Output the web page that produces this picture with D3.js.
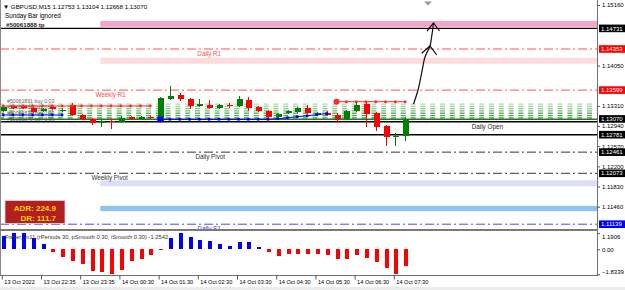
<!DOCTYPE html>
<html>
<head>
<meta charset="utf-8">
<script src="https://cdn.jsdelivr.net/npm/d3@7"></script>
<style>
  body { margin: 0; background: #fff; }
  svg text { font-family: "Liberation Sans", Arial, sans-serif; }
</style>
</head>
<body>
<script>
// ---- chart data (GBPUSD M15) ----
var opens  = [1.13223,1.13315,1.13306,1.13278,1.13223,1.13296,1.13223,1.13333,1.13150,1.13077,
              1.13004,1.13041,1.13022,1.13114,1.13077,1.13110,1.13041,1.13443,1.13516,1.13443,
              1.13315,1.13333,1.13278,1.13333,1.13315,1.13424,1.13296,1.13223,1.13114,1.13187,
              1.13205,1.13278,1.13150,1.13187,1.13150,1.13077,1.13223,1.13351,1.13187,1.12949,
              1.12730,1.12753]
var highs  = [1.13333,1.13333,1.13330,1.13296,1.13278,1.13315,1.13278,1.13369,1.13168,1.13095,
              1.13059,1.13077,1.13132,1.13132,1.13132,1.13125,1.13479,1.13680,1.13552,1.13461,
              1.13443,1.13424,1.13351,1.13369,1.13497,1.13479,1.13315,1.13242,1.13187,1.13242,
              1.13296,1.13333,1.13205,1.13223,1.13187,1.13242,1.13388,1.13369,1.13205,1.12967,
              1.12803,1.13104]
var lows   = [1.13205,1.13260,1.13255,1.13187,1.13205,1.13242,1.13205,1.13132,1.13059,1.12967,
              1.12913,1.12894,1.13004,1.13059,1.13059,1.13070,1.13022,1.13424,1.13406,1.13260,
              1.13296,1.13260,1.13260,1.13278,1.13296,1.13223,1.13205,1.13095,1.13095,1.13168,
              1.13187,1.13168,1.13132,1.13132,1.13004,1.13059,1.13205,1.12931,1.12840,1.12566,
              1.12566,1.12668]
var closes = [1.13296,1.13278,1.13270,1.13205,1.13260,1.13260,1.13242,1.13150,1.13077,1.13004,
              1.13041,1.13022,1.13095,1.13077,1.13114,1.13090,1.13461,1.13497,1.13443,1.13315,
              1.13351,1.13278,1.13333,1.13315,1.13443,1.13278,1.13223,1.13114,1.13168,1.13223,
              1.13278,1.13187,1.13187,1.13150,1.13077,1.13223,1.13333,1.13168,1.12931,1.12730,
              1.12766,1.13070]

// Fisher_m11 histogram
var fisher = [0.95,1.1906,1.17,0.86,0.37,-0.22,-0.54,-0.86,-1.10,-1.59,
              -1.64,-1.80,-1.52,-0.86,-0.71,-0.40,-0.07,0.86,1.18,0.88,
              0.69,0.61,0.39,0.27,0.51,0.51,0.15,-0.17,-0.47,-0.34,
              -0.34,-0.35,-0.37,-0.44,-0.74,-0.74,-0.44,-0.61,-0.96,-1.35,
              -1.8339,-1.2542]
var fisherTicks = [1.1906, 0, -1.8339]

var timeTickBars = [0,4,8,12,16,20,24,28,32,36,40]
var timeLabels = ["13 Oct 2022","13 Oct 22:35","13 Oct 23:35","14 Oct 00:30","14 Oct 01:30",
                  "14 Oct 02:30","14 Oct 03:30","14 Oct 04:30","14 Oct 05:30","14 Oct 06:30","14 Oct 07:30"]

var priceTicks = [1.15160,1.14050,1.13310,1.12940,1.12570,1.12200,1.11830,1.11460]

// level lines
var levelPrices = [1.14731,1.14353,1.13599,1.13020,1.12781,1.12461,1.12073,1.11139]
var levelNames  = ["","Daily R1","Weekly R1","Daily Open","","Daily Pivot","Weekly Pivot","Daily S1"]
var levelLabelBar = [0,19.8,9.4,47.8,0,19.6,9.0,19.8]

// price-axis marker boxes
var boxPrices = [1.14731,1.14353,1.13599,1.13070,1.12781,1.12461,1.12073,1.11139]
var boxKinds  = ["black","red","red","black","black","black","black","blue"]

// zones (from 14 Oct 00:00 bar)
var zoneLow  = [1.14758,1.14082,1.11835,1.11378]
var zoneHigh = [1.14868,1.14192,1.11944,1.11475]
var zoneStartBar = 9.9

// grid of pending order levels
var gridLevels = [1.13342,1.13300,1.13258,1.13216,1.13174,1.13132,1.13090]
var gridBase = 1.13065

// order lines with markers
var redA = {bars: d3.range(0,16), price: 1.13307}
var redB = {bars: d3.range(34,42), price: 1.13386}
var blueC = {bars: d3.range(0,7), price: 1.13142}
var blueDBars = d3.range(16,34)
var blueDPrices = [1.13063,1.13063,1.13063,1.13063,1.13063,1.13063,1.13063,1.13063,1.13063,1.13063,
                   1.13063,1.13063,1.13073,1.13093,1.13111,1.13129,1.13148,1.13168]

var orderTexts = ["#50061891 buy 0.03","#50061884 buy 0.03","#50061877 buy 0.03","#50061870 buy 0.03"]
var orderTextPrices = [1.13400,1.13290,1.13180,1.13070]

// hand-drawn arrow (bar index, price)
var arrowIdx   = [41.86,42.32,42.69,43.03,43.54,43.69,43.90]
var arrowPrice = [1.13344,1.13601,1.13913,1.14206,1.14408,1.14555,1.14830]
var midHeadIdx = [42.69,43.54,44.22], midHeadPrice = [1.14274,1.14408,1.14243]
var topHeadIdx = [43.23,43.90,44.51], topHeadPrice = [1.14683,1.14830,1.14683]

var adrText = ["ADR: 224.9", "DR: 111.7"]

// ---- layout ----
var W = 625, H = 290
var plotR = 597, mainB = 229, indT = 231, indB = 275.5

var svg = d3.select("body").append("svg").attr("width", W).attr("height", H)
svg.append("rect").attr("width", W).attr("height", H).attr("fill", "#fff")
svg.append("rect").attr("x", 0).attr("y", 287).attr("width", W).attr("height", 3).attr("fill", "#ececec")

var xBar = d3.scaleLinear().domain([0, 41]).range([3.3, 405.1])
var yP = d3.scaleLinear().domain([1.1146, 1.1516]).range([206.7, 5])
var yInd = d3.scaleLinear().domain([-1.8339, 1.1906]).range([274.3, 233.1])

svg.append("clipPath").attr("id", "mainclip").append("rect")
  .attr("x", 0).attr("y", 0).attr("width", plotR).attr("height", mainB)
var main = svg.append("g").attr("clip-path", "url(#mainclip)")

// zones
var zoneColors = ["#f6a5c9","#fddcdc","#dedefa","#8ec4f2"]
main.append("g").selectAll("rect").data(zoneLow).join("rect")
  .attr("x", xBar(zoneStartBar)).attr("width", plotR - xBar(zoneStartBar))
  .attr("y", function(d, i) { return yP(zoneHigh[i]) })
  .attr("height", function(d, i) { return yP(zoneLow[i]) - yP(zoneHigh[i]) })
  .attr("fill", function(d, i) { return zoneColors[i] })

// green pending-order grid
var gcol = d3.interpolateRgb("#a9dca9", "#3f9d3f")
main.append("g").selectAll("line").data(gridLevels).join("line")
  .attr("x1", 0).attr("x2", plotR)
  .attr("y1", function(d) { return yP(d) }).attr("y2", function(d) { return yP(d) })
  .attr("stroke", function(d, i) { return gcol(i / (gridLevels.length - 1)) })
  .attr("stroke-width", 1.3).attr("stroke-dasharray", "5,4.8").attr("stroke-dashoffset", 1)
main.append("line").attr("x1", 0).attr("x2", plotR)
  .attr("y1", yP(gridBase)).attr("y2", yP(gridBase))
  .attr("stroke", "#1f7a1f").attr("stroke-width", 1.6)

// level lines
var levelColor = ["#000","#ff5252","#ff5252","#000","#000","#333","#333","#4646ff"]
var levelDash  = [null,"9,3,2,3","9,3,2,3",null,null,"9,3,2,3","9,3,2,3","9,3,2,3"]
var levelWidth = [1.2,1,1,1.5,1.5,1,1,1]
main.append("g").selectAll("line").data(levelPrices).join("line")
  .attr("x1", 0).attr("x2", plotR)
  .attr("y1", function(d) { return yP(d) }).attr("y2", function(d) { return yP(d) })
  .attr("stroke", function(d, i) { return levelColor[i] })
  .attr("stroke-width", function(d, i) { return levelWidth[i] })
  .attr("stroke-dasharray", function(d, i) { return levelDash[i] })

var labelColor = ["#000","#ff4a4a","#ff4a4a","#222","#000","#333","#333","#3b3bff"]
main.append("g").selectAll("text").data(levelPrices).join("text")
  .filter(function(d, i) { return levelNames[i] !== "" })
  .attr("x", function(d) { var i = levelPrices.indexOf(d); return xBar(levelLabelBar[i]) })
  .attr("y", function(d) { return yP(d) + 7 })
  .attr("font-size", "6.3px")
  .attr("fill", function(d) { return labelColor[levelPrices.indexOf(d)] })
  .text(function(d) { return levelNames[levelPrices.indexOf(d)] })

// order labels (stacked, drawn under candles)
main.append("g").selectAll("text").data(orderTexts).join("text")
  .attr("x", 7).attr("y", function(d, i) { return yP(orderTextPrices[i]) + 2 })
  .attr("font-size", "5.2px").attr("fill", "#4a4a4a").attr("opacity", 0.85)
  .text(function(d) { return d })

// candles
var up = "#008000", dn = "#ff0000"
var bars = d3.range(opens.length)
var cg = main.append("g").attr("shape-rendering", "crispEdges")
cg.selectAll("line").data(bars).join("line")
  .attr("x1", function(i) { return Math.round(xBar(i)) + 0.5 })
  .attr("x2", function(i) { return Math.round(xBar(i)) + 0.5 })
  .attr("y1", function(i) { return yP(highs[i]) })
  .attr("y2", function(i) { return yP(lows[i]) })
  .attr("stroke", function(i) { return closes[i] >= opens[i] ? up : dn })
cg.selectAll("rect").data(bars).join("rect")
  .attr("x", function(i) { return Math.round(xBar(i)) - 2.5 })
  .attr("width", 6)
  .attr("y", function(i) { return yP(Math.max(opens[i], closes[i])) })
  .attr("height", function(i) { return Math.max(1.2, Math.abs(yP(opens[i]) - yP(closes[i]))) })
  .attr("fill", function(i) { return closes[i] >= opens[i] ? up : dn })

// order lines with markers
function flatLine(o, color, r) {
  main.append("line")
    .attr("x1", xBar(o.bars[0])).attr("x2", xBar(o.bars[o.bars.length - 1]))
    .attr("y1", yP(o.price)).attr("y2", yP(o.price))
    .attr("stroke", color).attr("stroke-width", 1)
  main.append("g").selectAll("circle").data(o.bars).join("circle")
    .attr("cx", function(b) { return xBar(b) }).attr("cy", yP(o.price))
    .attr("r", r).attr("fill", color)
}
flatLine(redA, "#ff2a2a", 1.4)
flatLine(redB, "#ff2a2a", 1.5)
main.append("circle").attr("cx", xBar(redB.bars[0])).attr("cy", yP(redB.price)).attr("r", 3).attr("fill", "#ff2a2a")
flatLine(blueC, "#0000ff", 1.4)

var blueLine = d3.line().x(function(b) { return xBar(b) }).y(function(b, i) { return yP(blueDPrices[i]) })
main.append("path").attr("d", blueLine(blueDBars)).attr("fill", "none").attr("stroke", "#0000ff").attr("stroke-width", 1)
main.append("g").selectAll("rect").data(blueDBars).join("rect")
  .attr("x", function(b) { return xBar(b) - 1.3 }).attr("y", function(b, i) { return yP(blueDPrices[i]) - 1.3 })
  .attr("width", 2.6).attr("height", 2.6).attr("fill", "#0000ff")
main.append("rect").attr("x", xBar(blueDBars[0]) - 2.8).attr("y", yP(blueDPrices[0]) - 2.8)
  .attr("width", 5.6).attr("height", 5.6).attr("fill", "#0000ff")

// hand drawn arrow
var arrowLine = d3.line().curve(d3.curveCatmullRom)
  .x(function(d) { return xBar(d[0]) }).y(function(d) { return yP(d[1]) })
var headLine = d3.line().x(function(d) { return xBar(d[0]) }).y(function(d) { return yP(d[1]) })
main.append("path").attr("d", arrowLine(d3.zip(arrowIdx, arrowPrice)))
  .attr("fill", "none").attr("stroke", "#111").attr("stroke-width", 1.2)
main.append("path").attr("d", headLine(d3.zip(midHeadIdx, midHeadPrice)))
  .attr("fill", "none").attr("stroke", "#111").attr("stroke-width", 1.2)
main.append("path").attr("d", headLine(d3.zip(topHeadIdx, topHeadPrice)))
  .attr("fill", "none").attr("stroke", "#111").attr("stroke-width", 1.2)

// ADR box
svg.append("rect").attr("x", 5).attr("y", 200.5).attr("width", 60).attr("height", 23)
  .attr("fill", "#b31e1e").attr("stroke", "#d9d9d9").attr("stroke-width", 0.8)
svg.append("g").selectAll("text").data(adrText).join("text")
  .attr("x", 56).attr("y", function(d, i) { return 210.5 + i * 10.5 })
  .attr("text-anchor", "end").attr("font-family", "DejaVu Sans").attr("font-weight", "bold")
  .attr("font-size", "8px").attr("fill", "#ffd400")
  .text(function(d) { return d })

// header
svg.append("text").attr("x", 3).attr("y", 8.5).attr("font-size", "6.2px").attr("fill", "#000")
  .text("\u25BC GBPUSD,M15  1.12753 1.13104 1.12668 1.13070")
svg.append("text").attr("x", 5).attr("y", 18).attr("font-size", "6.3px").attr("fill", "#000")
  .text("Sunday Bar ignored")
svg.append("text").attr("x", 6).attr("y", 26.5).attr("font-size", "6.2px").attr("font-weight", "bold").attr("fill", "#222")
  .text("#50061888 tp")
svg.append("path").attr("d", "M424,1.5 L432,1.5 L428,5.5 Z").attr("fill", "#9a9a9a")

// indicator panel
svg.append("g").attr("shape-rendering", "crispEdges")
  .selectAll("rect").data(fisher).join("rect")
  .attr("x", function(d, i) { return Math.round(xBar(i)) - 1.5 })
  .attr("width", 4)
  .attr("y", function(d) { return yInd(Math.max(0, d)) })
  .attr("height", function(d) { return Math.max(1, Math.abs(yInd(d) - yInd(0))) })
  .attr("fill", function(d) { return d >= 0 ? "#0000ff" : "#ff0000" })
svg.append("text").attr("x", 5).attr("y", 238.5).attr("font-size", "5.8px").attr("fill", "#333")
  .text("Fisher_m11  (rPeriods 30, pSmooth 0.30, iSmooth 0.30)   -1.2542")

// frames
var frame = svg.append("g").attr("shape-rendering", "crispEdges")
frame.append("line").attr("x1", 0.5).attr("x2", 0.5).attr("y1", 0).attr("y2", indB).attr("stroke", "#8a8a8a")
frame.append("line").attr("x1", plotR + 0.5).attr("x2", plotR + 0.5).attr("y1", 0).attr("y2", indB).attr("stroke", "#707070")
frame.append("rect").attr("x", 0).attr("y", mainB).attr("width", plotR + 1).attr("height", 2).attr("fill", "#7a7a7a")
frame.append("line").attr("x1", 0).attr("x2", plotR + 1).attr("y1", indB).attr("y2", indB).attr("stroke", "#707070")

// price axis
var pAxis = svg.append("g").attr("transform", "translate(" + plotR + ",0)")
  .call(d3.axisRight(yP).tickValues(priceTicks).tickSize(3).tickPadding(2).tickFormat(d3.format(".5f")))
pAxis.select(".domain").remove()
pAxis.selectAll("text").attr("font-size", "6px").attr("fill", "#000").attr("font-family", "Liberation Sans, Arial")
pAxis.selectAll("line").attr("stroke", "#555")

var boxFill = {black: "#000", red: "#ff0000", blue: "#0000ff"}
var boxes = svg.append("g").selectAll("g").data(boxPrices).join("g")
  .attr("transform", function(d) { return "translate(599," + yP(d) + ")" })
boxes.append("rect").attr("x", 0).attr("y", -3.8).attr("width", 26).attr("height", 7.6)
  .attr("fill", function(d, i) { return boxFill[boxKinds[i]] })
boxes.append("text").attr("x", 2).attr("y", 2.2).attr("font-size", "6px").attr("fill", "#fff")
  .text(function(d) { return d3.format(".5f")(d) })

// indicator axis
var iAxis = svg.append("g").attr("transform", "translate(" + plotR + ",0)")
  .call(d3.axisRight(yInd).tickValues(fisherTicks).tickSize(3).tickPadding(2)
    .tickFormat(function(d) { return d === 0 ? "0.00" : d3.format(".4f")(d) }))
iAxis.select(".domain").remove()
iAxis.selectAll("text").attr("font-size", "6px").attr("fill", "#000")
  .attr("dy", function(d) { return d > 0 ? "0.9em" : (d < 0 ? "-0.1em" : "0.32em") })
iAxis.selectAll("line").attr("stroke", "#555")

// time axis
var tAxis = svg.append("g").attr("transform", "translate(-1.5," + indB + ")")
  .call(d3.axisBottom(xBar).tickValues(timeTickBars).tickSize(4)
    .tickFormat(function(d, i) { return timeLabels[i] }))
tAxis.select(".domain").remove()
tAxis.selectAll("line").attr("stroke", "#555")
tAxis.selectAll("text").attr("text-anchor", "start").attr("x", 2).attr("y", 4.5)
  .attr("font-size", "5.6px").attr("fill", "#000")
</script>
</body>
</html>
